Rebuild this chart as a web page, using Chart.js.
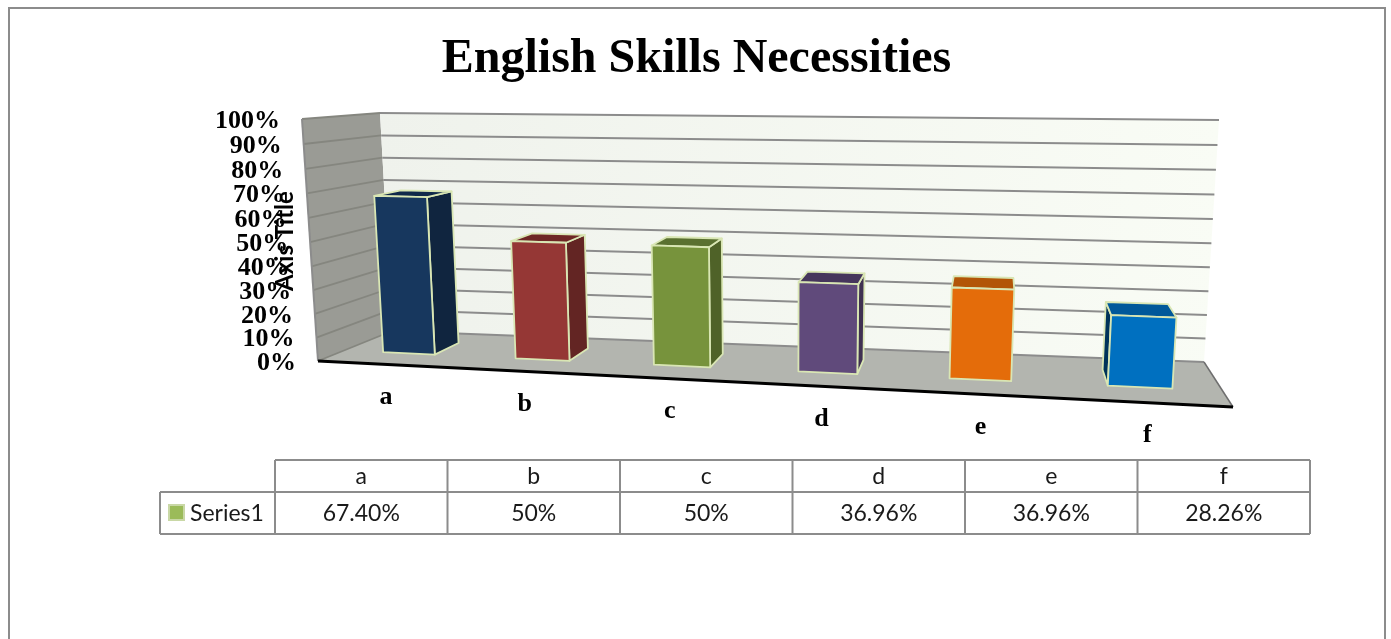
<!DOCTYPE html>
<html lang="en">
<head>
    <meta charset="UTF-8">
    <title>English Skills Necessities</title>
    <script src="https://cdn.jsdelivr.net/npm/chart.js"></script>
    <style>
        body { margin: 0; background: #fff; }
        canvas { display: block; }
    </style>
</head>
<body>
    <canvas id="skillsChart" width="1391" height="639"></canvas>
    <script>
        const categories = ["a", "b", "c", "d", "e", "f"];
        const seriesName = "Series1";
        const seriesValues = [67.4, 50, 50, 36.96, 36.96, 28.26];
        const tableValues = ["67.40%", "50%", "50%", "36.96%", "36.96%", "28.26%"];
        const frontColors = ["#17375E", "#953735", "#77933C", "#604A7B", "#E46C0A", "#0070C0"];
        const sideColors = ["#10253F", "#632523", "#4F6228", "#403152", "#984807", "#00335A"];
        const topColors = ["#10294A", "#6E2725", "#5A7030", "#46365C", "#B25507", "#00589A"];

        const GREY = "#8C8C8C";
        const SERIF = '"Liberation Serif"';
        const SANS = "Lato";

        // where the corners of the 3D box land on the page: x, y, perspective weight
        // key is u (categories), v (values), w (depth)
        const box = {
            "000": [318, 361, 1],
            "100": [1233, 407, 0.87],
            "010": [302, 119, 0.965],
            "110": [1251, 137, 0.835],
            "001": [392, 331, 1.11],
            "101": [1204, 362, 0.98],
            "011": [380, 113, 1.075],
            "111": [1219, 120, 0.945],
        };

        function project(u, v, w) {
            let x = 0, y = 0, d = 0;
            for (const key in box) {
                const f = (key[0] === "1" ? u : 1 - u) * (key[1] === "1" ? v : 1 - v) * (key[2] === "1" ? w : 1 - w);
                const [px, py, pd] = box[key];
                x += f * px * pd;
                y += f * py * pd;
                d += f * pd;
            }
            return [x / d, y / d];
        }

        function polygon(ctx, points, fill, stroke, lineWidth) {
            ctx.beginPath();
            points.forEach(([x, y], i) => (i ? ctx.lineTo(x, y) : ctx.moveTo(x, y)));
            ctx.closePath();
            if (fill) {
                ctx.fillStyle = fill;
                ctx.fill();
            }
            if (stroke) {
                ctx.strokeStyle = stroke;
                ctx.lineWidth = lineWidth;
                ctx.lineJoin = "round";
                ctx.stroke();
            }
        }

        function line(ctx, a, b, color, width) {
            ctx.beginPath();
            ctx.moveTo(a[0], a[1]);
            ctx.lineTo(b[0], b[1]);
            ctx.strokeStyle = color;
            ctx.lineWidth = width;
            ctx.stroke();
        }

        function drawWalls(chart, ctx) {
            const yScale = chart.scales.y;
            const area = chart.chartArea;
            const toV = (value) => (area.bottom - yScale.getPixelForValue(value)) / area.height;

            polygon(ctx, [project(0, 0, 0), project(0, 1, 0), project(0, 1, 1), project(0, 0, 1)], "#9A9B95");
            const back = ctx.createLinearGradient(380, 0, 1219, 0);
            back.addColorStop(0, "#EFF2EC");
            back.addColorStop(1, "#F9FCF5");
            polygon(ctx, [project(0, 0, 1), project(0, 1, 1), project(1, 1, 1), project(1, 0, 1)], back);
            polygon(ctx, [project(0, 0, 0), project(0, 0, 1), project(1, 0, 1), project(1, 0, 0)], "#B3B5AF");

            yScale.ticks.forEach((tick) => {
                const v = toV(tick.value);
                line(ctx, project(0, v, 0), project(0, v, 1), "#85867F", 1.8);
                line(ctx, project(0, v, 1), project(1, v, 1), GREY, 2);
            });

            line(ctx, project(0, 0, 0), project(0, 1, 0), GREY, 2);
            line(ctx, project(1, 0, 0), project(1, 0, 1), "#6E6E6E", 1.5);
            line(ctx, project(0, 0, 0), project(1, 0, 0), "#000000", 2.8);
        }

        function drawBars(chart, ctx) {
            const area = chart.chartArea;
            const depthFront = 0.33;
            const depthBack = 0.7;
            const outline = "#D9E6B4";

            chart.getDatasetMeta(0).data.forEach((bar, i) => {
                const u0 = (bar.x - bar.width / 2 - area.left) / area.width;
                const u1 = (bar.x + bar.width / 2 - area.left) / area.width;
                const v = (area.bottom - bar.y) / area.height;

                const frontFace = [project(u0, 0, depthFront), project(u0, v, depthFront), project(u1, v, depthFront), project(u1, 0, depthFront)];
                const topFace = [project(u0, v, depthFront), project(u0, v, depthBack), project(u1, v, depthBack), project(u1, v, depthFront)];
                const leftFace = [project(u0, 0, depthFront), project(u0, v, depthFront), project(u0, v, depthBack), project(u0, 0, depthBack)];
                const rightFace = [project(u1, 0, depthFront), project(u1, v, depthFront), project(u1, v, depthBack), project(u1, 0, depthBack)];

                // only the side turned towards the viewer shows
                if (leftFace[3][0] < leftFace[0][0] - 0.5) polygon(ctx, leftFace, sideColors[i], outline, 1.8);
                if (rightFace[3][0] > rightFace[0][0] + 0.5) polygon(ctx, rightFace, sideColors[i], outline, 1.8);
                polygon(ctx, topFace, topColors[i], outline, 1.8);
                polygon(ctx, frontFace, frontColors[i], outline, 1.8);
            });
        }

        function drawAxisLabels(chart, ctx) {
            const area = chart.chartArea;
            const yScale = chart.scales.y;
            const xScale = chart.scales.x;

            ctx.fillStyle = "#000";
            ctx.textBaseline = "middle";
            ctx.font = `bold 26px ${SERIF}`;
            ctx.textAlign = "right";
            yScale.ticks.forEach((tick) => {
                const v = (area.bottom - yScale.getPixelForValue(tick.value)) / area.height;
                const [x, y] = project(0, v, 0);
                ctx.fillText(tick.label, x - 22, y + 2);
            });

            ctx.textAlign = "center";
            xScale.ticks.forEach((tick, i) => {
                const u = (xScale.getPixelForTick(i) - area.left) / area.width;
                const [x, y] = project(u, 0, 0);
                ctx.fillText(tick.label, x + 1, y + 33);
            });

            ctx.save();
            ctx.translate(285, 241);
            ctx.rotate(-Math.PI / 2);
            ctx.font = `bold 24px ${SANS}`;
            ctx.fillText("Axis Title", 0, 0);
            ctx.restore();
        }

        function drawDataTable(ctx) {
            const left = 275, right = 1310, top = 460, mid = 492, bottom = 534, keyLeft = 160;
            const cell = (right - left) / categories.length;

            ctx.strokeStyle = GREY;
            ctx.lineWidth = 2;
            ctx.beginPath();
            ctx.moveTo(left, top); ctx.lineTo(right, top);
            ctx.moveTo(keyLeft, mid); ctx.lineTo(right, mid);
            ctx.moveTo(keyLeft, bottom); ctx.lineTo(right, bottom);
            ctx.moveTo(keyLeft, mid); ctx.lineTo(keyLeft, bottom);
            for (let i = 0; i <= categories.length; i++) {
                ctx.moveTo(left + i * cell, top);
                ctx.lineTo(left + i * cell, bottom);
            }
            ctx.stroke();

            ctx.fillStyle = "#1A1A1A";
            ctx.font = `23px ${SANS}`;
            ctx.textAlign = "center";
            ctx.textBaseline = "middle";
            categories.forEach((name, i) => {
                const x = left + (i + 0.5) * cell;
                ctx.fillText(name, x, 477);
                ctx.fillText(tableValues[i], x, 514);
            });

            ctx.textAlign = "left";
            ctx.fillText(seriesName, 190, 514);
            ctx.fillStyle = "#C9D8A6";
            ctx.fillRect(168, 504, 17, 17);
            ctx.fillStyle = "#9BBB59";
            ctx.fillRect(170, 506, 13, 13);
        }

        function drawFrame(chart, ctx) {
            ctx.strokeStyle = GREY;
            ctx.lineWidth = 2;
            ctx.beginPath();
            ctx.moveTo(9, chart.height + 2);
            ctx.lineTo(9, 8);
            ctx.lineTo(1385, 8);
            ctx.lineTo(1385, chart.height + 2);
            ctx.stroke();
        }

        // Chart.js has no 3D bars, so the bars and axes are painted from its scales
        const scene3d = {
            id: "scene3d",
            beforeDatasetsDraw(chart) {
                const ctx = chart.ctx;
                ctx.save();
                drawFrame(chart, ctx);
                drawWalls(chart, ctx);
                drawBars(chart, ctx);
                drawAxisLabels(chart, ctx);
                drawDataTable(ctx);
                ctx.restore();
                return false;
            },
        };

        new Chart(document.getElementById("skillsChart").getContext("2d"), {
            type: "bar",
            data: {
                labels: categories,
                datasets: [{
                    label: seriesName,
                    data: seriesValues,
                    backgroundColor: frontColors,
                    barPercentage: 0.395,
                    categoryPercentage: 1,
                }],
            },
            options: {
                responsive: false,
                animation: false,
                layout: { padding: { left: 2 } },
                plugins: {
                    legend: { display: false },
                    tooltip: { enabled: false },
                    title: {
                        display: true,
                        text: "English Skills Necessities",
                        color: "#000",
                        font: { family: SERIF, size: 48, weight: "bold" },
                        padding: { top: 31, bottom: 10 },
                    },
                },
                scales: {
                    x: { display: false },
                    y: {
                        display: false,
                        min: 0,
                        max: 100,
                        ticks: { stepSize: 10, callback: (value) => value + "%" },
                    },
                },
            },
            plugins: [scene3d],
        });
    </script>
</body>
</html>
